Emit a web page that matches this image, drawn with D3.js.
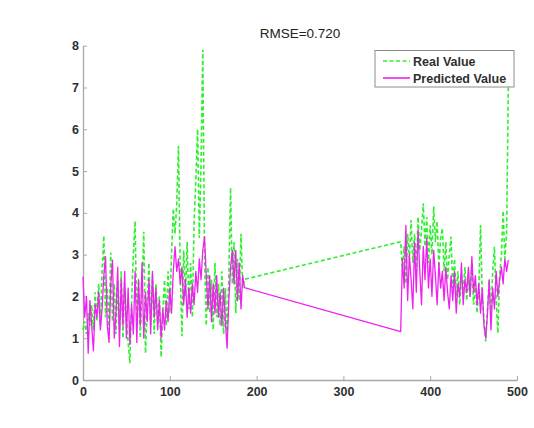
<!DOCTYPE html>
<html>
<head>
<meta charset="utf-8">
<script src="https://cdn.jsdelivr.net/npm/d3@7"></script>
<style>
  body { margin: 0; background: #fff; }
  text { font-family: "Liberation Sans", Arial, sans-serif; }
</style>
</head>
<body>
<div id="chart"></div>
<script>
/** Chart data */
const title = "RMSE=0.720";
const seriesNames = ["Real Value", "Predicted Value"];
const xTicks = [0, 100, 200, 300, 400, 500];
const yTicks = [0, 1, 2, 3, 4, 5, 6, 7, 8];

// sample numbers of the first block and of the second block
const samplesA = [0, 2, 4, 6, 8, 10, 12, 14, 16, 18, 20, 22, 24, 26, 28, 30, 32, 34, 36, 38,
  40, 42, 44, 46, 48, 50, 52, 54, 56, 58, 60, 62, 64, 66, 68, 70, 72, 74, 76, 78,
  80, 82, 84, 86, 88, 90, 92, 94, 96, 98, 100, 102, 104, 106, 108, 110, 112, 114, 116, 118,
  120, 122, 124, 126, 128, 130, 132, 134, 136, 138, 140, 142, 144, 146, 148, 150, 152, 154, 156, 158,
  160, 162, 164, 166, 168, 170, 172, 174, 176, 178, 180, 182, 184, 186];
const samplesB = [366, 368, 370, 372, 374, 376, 378, 380, 382, 384, 386, 388, 390, 392, 394, 396,
  398, 400, 402, 404, 406, 408, 410, 412, 414, 416, 418, 420, 422, 424, 426, 428, 430, 432, 434,
  436, 438, 440, 442, 444, 446, 448, 450, 452, 454, 456, 458, 460, 462, 464, 466, 468, 470, 472,
  474, 476, 478, 480, 482, 484, 486, 488, 490];

const realA = [1.2, 1.4, 1.1, 1.6, 1.3, 1.8, 1.2, 2.1, 1.4, 2.3, 1.3, 2.6, 3.45, 1.5, 2.2, 1.2, 3.05, 1.4, 2.3, 1.1,
  2.4, 1.2, 2.6, 1.0, 2.2, 1.5, 0.9, 0.4, 1.9, 3.0, 3.8, 1.4, 2.4, 1.0, 2.2, 3.55, 0.64, 1.8, 2.8, 1.3,
  2.5, 1.1, 2.3, 1.4, 2.0, 0.55, 1.7, 2.4, 1.3, 2.6, 1.6, 3.0, 4.1, 3.5, 4.2, 5.6, 2.6, 1.05, 3.1, 2.0,
  3.3, 1.7, 2.8, 1.5, 3.8, 4.8, 6.0, 3.4, 5.2, 7.9, 3.0, 1.3, 2.7, 1.6, 2.4, 1.2, 2.8, 1.5, 2.3, 1.3,
  2.6, 1.1, 2.2, 1.0, 2.5, 4.6, 2.3, 3.3, 1.6, 2.9, 1.9, 3.5, 2.2, 2.41];
const predA = [2.47, 1.5, 2.0, 0.64, 1.9, 1.3, 0.7, 1.8, 1.5, 2.1, 1.2, 1.7, 2.5, 2.95, 1.3, 0.9, 2.3, 2.87, 1.0, 1.6,
  2.7, 0.8, 2.4, 1.3, 2.6, 1.0, 2.2, 0.85, 1.8, 1.1, 2.6, 0.9, 2.4, 1.3, 2.8, 1.0, 2.1, 1.4, 2.4, 1.1,
  2.6, 1.5, 2.2, 1.2, 1.9, 1.0, 1.7, 1.2, 1.9, 1.4, 2.2, 1.6, 2.6, 3.19, 2.6, 2.9, 2.3, 2.7, 1.8, 2.4,
  1.5, 2.2, 1.6, 2.3, 1.8, 2.6, 2.1, 2.9, 2.4, 3.1, 3.43, 2.5, 1.7, 2.5, 1.4, 2.3, 1.6, 2.5, 1.5, 2.1,
  1.3, 2.2, 1.4, 0.76, 1.9, 2.7, 3.1, 2.3, 3.1, 1.9, 2.8, 1.7, 2.5, 2.21];
const realB = [3.31, 2.6, 3.2, 2.3, 3.5, 2.9, 3.83, 2.8, 3.5, 2.6, 3.9, 3.1, 3.6, 4.23, 3.2, 3.9,
  2.8, 3.7, 3.0, 4.15, 3.3, 3.8, 2.7, 3.4, 3.63, 2.6, 3.3, 2.4, 3.0, 3.43, 2.2, 2.9, 2.0, 2.6, 1.8,
  2.5, 2.1, 2.7, 1.9, 2.4, 2.0, 2.8, 1.8, 2.3, 1.6, 2.2, 3.71, 2.0, 1.4, 0.92, 1.7, 2.4, 1.5, 2.6,
  3.19, 1.9, 1.12, 2.5, 3.0, 4.05, 2.9, 3.5, 7.0];
const predB = [1.16, 2.9, 2.2, 3.7, 1.9, 3.0, 2.4, 1.7, 3.3, 2.1, 3.6, 2.6, 1.8, 3.2, 2.4, 3.4,
  2.2, 2.9, 2.0, 3.1, 2.5, 1.8, 2.8, 2.2, 2.6, 1.9, 2.7, 2.1, 1.7, 2.5, 1.9, 2.6, 1.6, 2.3, 2.0,
  2.8, 1.8, 2.4, 2.1, 2.7, 2.0, 2.95, 2.1, 2.5, 1.8, 2.3, 1.6, 2.2, 1.3, 1.0, 1.6, 2.4, 1.2, 2.2,
  1.7, 2.6, 2.0, 2.4, 2.7, 2.3, 2.9, 2.6, 2.87];

/** Graph configs */
const W = 534, H = 428;
const plot = { left: 83, right: 517, top: 45.7, bottom: 380 };
const colors = { real: "#2ef02e", pred: "#f020f0", axis: "#a8a8a8", text: "#303030" };

const svg = d3.select("#chart").append("svg")
  .attr("width", W).attr("height", H);

svg.append("rect").attr("width", W).attr("height", H).attr("fill", "#fff");

const xScale = d3.scaleLinear().domain([0, 500]).range([plot.left, plot.right]);
const yScale = d3.scaleLinear().domain([0, 8]).range([plot.bottom, plot.top]);

/** Axes (left + bottom only, ticks pointing inside) */
const xAxis = d3.axisBottom(xScale).tickValues(xTicks).tickSizeInner(-4).tickSizeOuter(0).tickPadding(7.5);
const yAxis = d3.axisLeft(yScale).tickValues(yTicks).tickSizeInner(-4).tickSizeOuter(0).tickPadding(4);

const gx = svg.append("g").attr("transform", `translate(0,${plot.bottom})`).call(xAxis);
const gy = svg.append("g").attr("transform", `translate(${plot.left},0)`).call(yAxis);

[gx, gy].forEach((g) => {
  g.select(".domain").attr("stroke", colors.axis).attr("stroke-width", 1.3);
  g.selectAll(".tick line").attr("stroke", colors.axis).attr("stroke-width", 1);
  g.selectAll(".tick text")
    .attr("fill", colors.text)
    .style("font-family", '"Liberation Sans", Arial, sans-serif')
    .style("font-size", "12.5px")
    .style("font-weight", "bold");
});

/** Lines */
const toPoints = (xs, ys) => xs.map((x, i) => [x, ys[i]]);
const realPts = toPoints(samplesA, realA).concat(toPoints(samplesB, realB));
const predPts = toPoints(samplesA, predA).concat(toPoints(samplesB, predB));

const line = d3.line().x((d) => xScale(d[0])).y((d) => yScale(d[1]));

svg.append("path").datum(realPts)
  .attr("d", line)
  .attr("fill", "none")
  .attr("stroke", colors.real)
  .attr("stroke-width", 1.6)
  .attr("stroke-dasharray", "4,2.5");

svg.append("path").datum(predPts)
  .attr("d", line)
  .attr("fill", "none")
  .attr("stroke", colors.pred)
  .attr("stroke-width", 1.3)
  .attr("stroke-linejoin", "round");

/** Title */
svg.append("text")
  .attr("x", (plot.left + plot.right) / 2)
  .attr("y", 37.5)
  .attr("text-anchor", "middle")
  .attr("fill", "#222")
  .style("font-size", "13.5px")
  .text(title);

/** Legend */
const legend = svg.append("g");
legend.append("rect")
  .attr("x", 375).attr("y", 50.5).attr("width", 139).attr("height", 36.5)
  .attr("fill", "#fff").attr("stroke", "#8c8c8c").attr("stroke-width", 1);

const legendRows = [
  { name: seriesNames[0], color: colors.real, dash: "4,2.5", w: 1.6, y: 61 },
  { name: seriesNames[1], color: colors.pred, dash: null, w: 1.6, y: 78 },
];
legendRows.forEach((r) => {
  legend.append("line")
    .attr("x1", 383).attr("x2", 410).attr("y1", r.y).attr("y2", r.y)
    .attr("stroke", r.color).attr("stroke-width", r.w)
    .attr("stroke-dasharray", r.dash);
  legend.append("text")
    .attr("x", 413).attr("y", r.y).attr("dy", "0.36em")
    .attr("fill", colors.text)
    .style("font-size", "12.5px")
    .style("font-weight", "bold")
    .text(r.name);
});
</script>
</body>
</html>
